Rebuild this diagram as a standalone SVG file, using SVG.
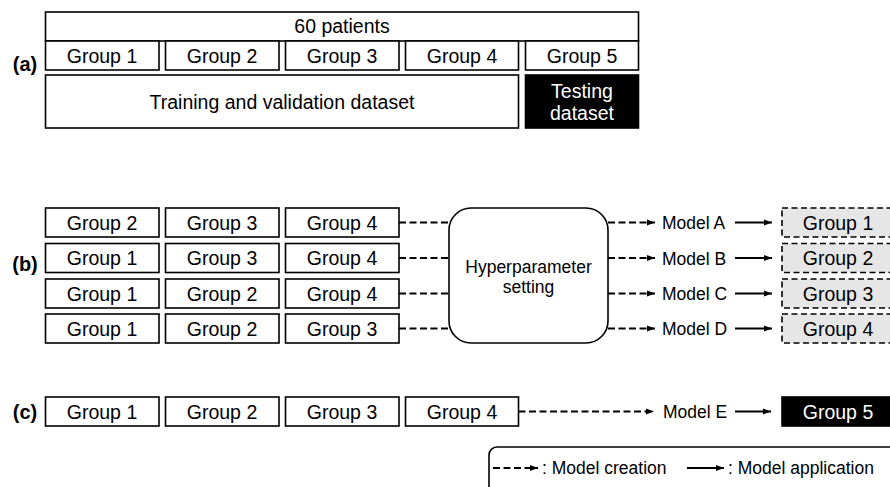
<svg xmlns="http://www.w3.org/2000/svg" width="890" height="487" viewBox="0 0 890 487">
  <defs>
    <marker id="arrow" viewBox="0 0 8 8" refX="8" refY="4" markerWidth="8" markerHeight="8" markerUnits="userSpaceOnUse" orient="auto">
      <path d="M0,1 L8,4 L0,7 Z" fill="#000"/>
    </marker>
  </defs>
  <style>
    text { font-family: "Liberation Sans", Arial, sans-serif; fill: #000; }
    .lbl { font-size: 19.5px; text-anchor: middle; }
    .mdl { font-size: 17.5px; }
    .part { font-size: 20px; font-weight: bold; text-anchor: middle; }
    .box { fill: #fff; stroke: #000; stroke-width: 1.6; }
    .dark { fill: #000; stroke: #000; stroke-width: 1.6; }
    .eval { fill: #e6e6e6; stroke: #000; stroke-width: 1.6; stroke-dasharray: 6 3.5; }
    .inv { fill: #fff; }
    .dash { fill: none; stroke: #000; stroke-width: 2; stroke-dasharray: 7 3.5; }
    .solid { fill: none; stroke: #000; stroke-width: 2; }
  </style>

  <!-- (a) data split -->
  <text class="part" x="25" y="71">(a)</text>
  <g id="a-all">
    <rect class="box" x="45.5" y="12" width="593" height="29"/>
    <text class="lbl" x="342" y="33">60 patients</text>
  </g>
  <g id="a-g1"><rect class="box" x="45.5" y="41" width="113.5" height="29"/><text class="lbl" x="102" y="62.5">Group 1</text></g>
  <g id="a-g2"><rect class="box" x="165.5" y="41" width="113.5" height="29"/><text class="lbl" x="222" y="62.5">Group 2</text></g>
  <g id="a-g3"><rect class="box" x="285.5" y="41" width="113.5" height="29"/><text class="lbl" x="342" y="62.5">Group 3</text></g>
  <g id="a-g4"><rect class="box" x="405.5" y="41" width="113" height="29"/><text class="lbl" x="462" y="62.5">Group 4</text></g>
  <g id="a-g5"><rect class="box" x="525.5" y="41" width="113" height="29"/><text class="lbl" x="582" y="62.5">Group 5</text></g>
  <g id="a-train"><rect class="box" x="45.5" y="75" width="473" height="53"/><text class="lbl" x="282" y="108.5">Training and validation dataset</text></g>
  <g id="a-test"><rect class="dark" x="525.5" y="75" width="113" height="53"/><text class="lbl inv" x="582" y="97.5">Testing</text><text class="lbl inv" x="582" y="119.5">dataset</text></g>

  <!-- (b) cross-validation folds -->
  <text class="part" x="25" y="270.5">(b)</text>
  <g id="b-r1">
    <rect class="box" x="45.5" y="208" width="113.5" height="29"/><text class="lbl" x="102" y="229.5">Group 2</text>
    <rect class="box" x="165.5" y="208" width="113.5" height="29"/><text class="lbl" x="222" y="229.5">Group 3</text>
    <rect class="box" x="285.5" y="208" width="113.5" height="29"/><text class="lbl" x="342" y="229.5">Group 4</text>
  </g>
  <g id="b-r2">
    <rect class="box" x="45.5" y="243.5" width="113.5" height="29"/><text class="lbl" x="102" y="265">Group 1</text>
    <rect class="box" x="165.5" y="243.5" width="113.5" height="29"/><text class="lbl" x="222" y="265">Group 3</text>
    <rect class="box" x="285.5" y="243.5" width="113.5" height="29"/><text class="lbl" x="342" y="265">Group 4</text>
  </g>
  <g id="b-r3">
    <rect class="box" x="45.5" y="279" width="113.5" height="29"/><text class="lbl" x="102" y="300.5">Group 1</text>
    <rect class="box" x="165.5" y="279" width="113.5" height="29"/><text class="lbl" x="222" y="300.5">Group 2</text>
    <rect class="box" x="285.5" y="279" width="113.5" height="29"/><text class="lbl" x="342" y="300.5">Group 4</text>
  </g>
  <g id="b-r4">
    <rect class="box" x="45.5" y="314" width="113.5" height="29"/><text class="lbl" x="102" y="335.5">Group 1</text>
    <rect class="box" x="165.5" y="314" width="113.5" height="29"/><text class="lbl" x="222" y="335.5">Group 2</text>
    <rect class="box" x="285.5" y="314" width="113.5" height="29"/><text class="lbl" x="342" y="335.5">Group 3</text>
  </g>
  <g id="hyper">
    <rect class="box" x="449" y="208" width="159" height="135" rx="22" ry="22"/>
    <text class="mdl" x="528.5" y="273" text-anchor="middle">Hyperparameter</text>
    <text class="mdl" x="528.5" y="293" text-anchor="middle">setting</text>
  </g>
  <g id="b-models">
    <text class="mdl" x="662" y="229">Model A</text>
    <text class="mdl" x="662" y="264.5">Model B</text>
    <text class="mdl" x="662" y="300">Model C</text>
    <text class="mdl" x="662" y="335">Model D</text>
  </g>
  <g id="b-val">
    <rect class="eval" x="782" y="208" width="113" height="29"/><text class="lbl" x="838" y="229.5">Group 1</text>
    <rect class="eval" x="782" y="243.5" width="113" height="29"/><text class="lbl" x="838" y="265">Group 2</text>
    <rect class="eval" x="782" y="279" width="113" height="29"/><text class="lbl" x="838" y="300.5">Group 3</text>
    <rect class="eval" x="782" y="314" width="113" height="29"/><text class="lbl" x="838" y="335.5">Group 4</text>
  </g>

  <!-- (c) final model -->
  <text class="part" x="25" y="419">(c)</text>
  <g id="c-train">
    <rect class="box" x="45.5" y="397" width="113.5" height="29"/><text class="lbl" x="102" y="418.5">Group 1</text>
    <rect class="box" x="165.5" y="397" width="113.5" height="29"/><text class="lbl" x="222" y="418.5">Group 2</text>
    <rect class="box" x="285.5" y="397" width="113.5" height="29"/><text class="lbl" x="342" y="418.5">Group 3</text>
    <rect class="box" x="405.5" y="397" width="113" height="29"/><text class="lbl" x="462" y="418.5">Group 4</text>
  </g>
  <g id="c-model"><text class="mdl" x="663" y="418">Model E</text></g>
  <g id="c-test"><rect class="dark" x="782" y="397" width="113" height="29"/><text class="lbl inv" x="838" y="418.5">Group 5</text></g>

  <!-- connectors -->
  <g id="connectors">
    <line class="dash" x1="399" y1="222.5" x2="449" y2="222.5"/>
    <line class="dash" x1="399" y1="258" x2="449" y2="258"/>
    <line class="dash" x1="399" y1="293.5" x2="449" y2="293.5"/>
    <line class="dash" x1="399" y1="328.5" x2="449" y2="328.5"/>
    <line class="dash" x1="608" y1="222.5" x2="655" y2="222.5" marker-end="url(#arrow)"/>
    <line class="dash" x1="608" y1="258" x2="655" y2="258" marker-end="url(#arrow)"/>
    <line class="dash" x1="608" y1="293.5" x2="655" y2="293.5" marker-end="url(#arrow)"/>
    <line class="dash" x1="608" y1="328.5" x2="655" y2="328.5" marker-end="url(#arrow)"/>
    <line class="solid" x1="735" y1="222.5" x2="772" y2="222.5" marker-end="url(#arrow)"/>
    <line class="solid" x1="735" y1="258" x2="772" y2="258" marker-end="url(#arrow)"/>
    <line class="solid" x1="735" y1="293.5" x2="772" y2="293.5" marker-end="url(#arrow)"/>
    <line class="solid" x1="735" y1="328.5" x2="772" y2="328.5" marker-end="url(#arrow)"/>
    <line class="dash" x1="518.5" y1="411.5" x2="654" y2="411.5" marker-end="url(#arrow)"/>
    <line class="solid" x1="735" y1="411.5" x2="771" y2="411.5" marker-end="url(#arrow)"/>
  </g>

  <!-- legend -->
  <g id="legend">
    <rect x="489" y="447" width="420" height="60" rx="8" ry="8" fill="#fff" stroke="#000" stroke-width="1.6"/>
    <line class="dash" x1="493" y1="468" x2="538" y2="468" marker-end="url(#arrow)"/>
    <text class="mdl" x="542" y="474">: Model creation</text>
    <line class="solid" x1="687" y1="468" x2="724" y2="468" marker-end="url(#arrow)"/>
    <text class="mdl" x="728" y="474">: Model application</text>
  </g>
</svg>
